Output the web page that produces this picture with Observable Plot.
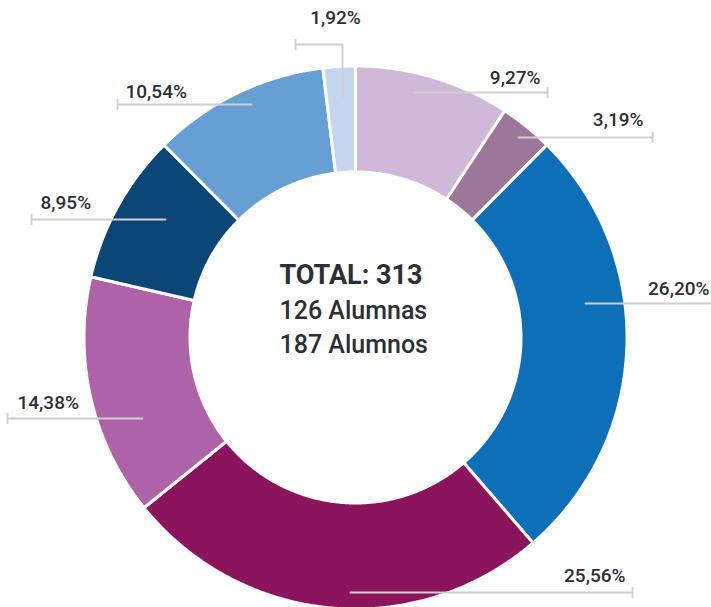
<!DOCTYPE html>
<html><head><meta charset="utf-8">
<script src="https://cdn.jsdelivr.net/npm/d3@7"></script>
<script src="https://cdn.jsdelivr.net/npm/@observablehq/plot@0.6"></script>
<style>body{margin:0;background:#fff} #chart svg{display:block}</style>
</head><body><div id="chart"></div>
<script>
// ---- data ----
const labels = ["9,27%", "3,19%", "26,20%", "25,56%", "14,38%", "8,95%", "10,54%", "1,92%"];
const values = [9.27, 3.19, 26.20, 25.56, 14.38, 8.95, 10.54, 1.92];
const totalLine = ["TOTAL: 313"];
const genderLines = ["126 Alumnas", "187 Alumnos"];

// ---- styles ----
const palette = ["#d0b8d8", "#9b7898", "#0d6fb8", "#8c145d", "#ae62a8", "#0b4677", "#659fd4", "#c5d7ef"];
const textColor = "#2c2f35";
const leaderColor = "#cfcfcf";

// ---- layout (chart units = px offset from donut centre, y up) ----
const R = 271.5, r0 = 165.5;
// leader paths (start inside slice -> end tick) and label anchors
const leaderPaths = [
  [[58, 245], [192, 245]],
  [[163, 200], [297, 200]],
  [[230, 34], [367, 34]],
  [[-5, -255], [277, -255]],
  [[-213, -81], [-348, -81]],
  [[-190, 118], [-324, 118]],
  [[-104, 233], [-238, 233]],
  [[-13, 240], [-13, 293], [-60, 293]]
];
const labelAnchors = [
  [185, 254, "end"], [288, 212, "end"], [354, 43, "end"], [270, -244, "end"],
  [-338, -71, "start"], [-315, 129, "start"], [-230, 240, "start"], [-20, 314, "middle"]
];
const centerX = -76, centerBaselines = [54, 19, -15];

// ---- derived geometry ----
const total = d3.sum(values);
const slicePts = [];
let acc = 0;
values.forEach((v, i) => {
  const a0 = acc / total * 2 * Math.PI;
  acc += v;
  const a1 = acc / total * 2 * Math.PI;
  const n = Math.max(4, Math.ceil((a1 - a0) * 180 / Math.PI * 2));
  const ring = [];
  for (let k = 0; k <= n; k++) {
    const a = a0 + (a1 - a0) * k / n;
    ring.push({label: labels[i], x: R * Math.sin(a), y: R * Math.cos(a)});
  }
  for (let k = n; k >= 0; k--) {
    const a = a0 + (a1 - a0) * k / n;
    ring.push({label: labels[i], x: r0 * Math.sin(a), y: r0 * Math.cos(a)});
  }
  ring.push({...ring[0]});
  slicePts.push(...ring);
});

const leaderPts = leaderPaths.flatMap((p, i) => p.map(([x, y]) => ({label: labels[i], x, y})));
const ticks = leaderPaths.map((p, i) => {
  const [x, y] = p[p.length - 1];
  return {label: labels[i], x, y1: y + 5, y2: y - 6};
});
const labelData = labels.map((l, i) => ({label: l, x: labelAnchors[i][0], y: labelAnchors[i][1], anchor: labelAnchors[i][2]}));
const centerData = [...totalLine, ...genderLines].map((t, i) => ({t, x: centerX, y: centerBaselines[i], big: i === 0}));

const textCommon = {fontFamily: "Roboto, 'Noto Sans', sans-serif", fill: textColor, lineAnchor: "bottom"};

const chart = Plot.plot({
  width: 711, height: 607, margin: 0,
  x: {domain: [-355, 356], axis: null},
  y: {domain: [-270, 337], axis: null},
  color: {domain: labels, range: palette},
  marks: [
    Plot.line(slicePts, {x: "x", y: "y", z: "label", fill: "label", stroke: "white", strokeWidth: 3, strokeLinejoin: "miter", curve: "linear"}),
    Plot.line(leaderPts, {x: "x", y: "y", z: "label", stroke: leaderColor, strokeWidth: 1.8, curve: "linear"}),
    Plot.ruleX(ticks, {x: "x", y1: "y1", y2: "y2", stroke: leaderColor, strokeWidth: 1.8}),
    ...["start", "end", "middle"].map(a => Plot.text(labelData.filter(d => d.anchor === a), {
      x: "x", y: "y", text: "label", textAnchor: a, fontSize: 19, fontWeight: 500, ...textCommon
    })),
    Plot.text(centerData.filter(d => d.big), {x: "x", y: "y", text: "t", textAnchor: "start", fontSize: 27, fontWeight: 700, ...textCommon}),
    Plot.text(centerData.filter(d => !d.big), {x: "x", y: "y", text: "t", textAnchor: "start", fontSize: 25, fontWeight: 500, ...textCommon})
  ]
});
document.getElementById("chart").append(chart);
</script>
</body></html>
